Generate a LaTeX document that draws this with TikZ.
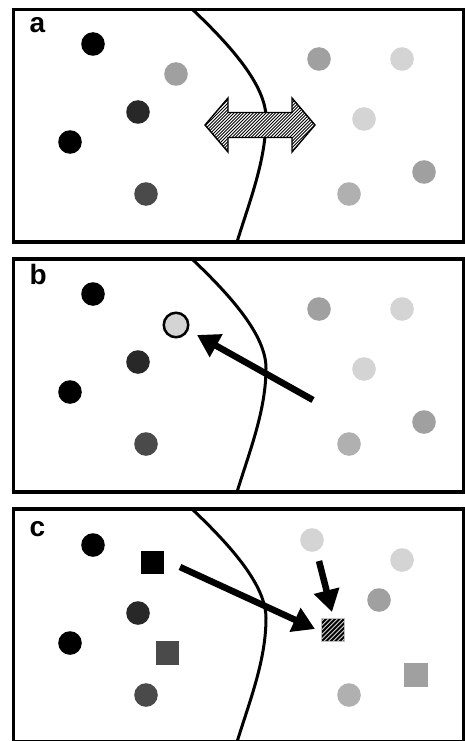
\documentclass[tikz,border=0pt]{standalone}
\usepackage{fontspec}
\setmainfont{Liberation Sans}
\usetikzlibrary{arrows.meta}
\definecolor{cdark}{HTML}{282828}
\definecolor{cmid}{HTML}{4A4A4A}
\definecolor{cgray}{HTML}{A0A0A0}
\definecolor{clight}{HTML}{D4D4D4}
\definecolor{cpale}{HTML}{B0B0B0}
\begin{document}
\begin{tikzpicture}[x=1pt,y=-1pt,
 panel/.style={draw=black, line width=3.2pt},
 boundary/.style={line width=3pt},
 dot/.style={circle, inner sep=0pt, minimum size=23.6pt, draw=none},
 sq/.style={rectangle, inner sep=0pt, minimum size=23.5pt, draw=none},
 lbl/.style={anchor=base west, inner sep=0pt, font=\fontsize{28}{28}\selectfont\bfseries},
 bigarrow/.style={line width=6.5pt, -{Triangle[length=22pt,width=25pt]}},
 hatchsq/.style={rectangle, inner sep=0pt, minimum size=23.5pt, fill=clight, draw=black!25, line width=0.8pt,
   path picture={\foreach \i in {-36,-31.5,...,36}{\draw[draw=black, line width=2pt, shift={(path picture bounding box.center)}] ({\i-30},30) -- ({\i+30},-30);}}},
]
\useasboundingbox (0,0) rectangle (465,741);
\fill[white] (0,0) rectangle (465,741);

% panels
\draw[panel] (13.5,9.5) rectangle (463.5,242);
\draw[panel] (13.5,259) rectangle (463.5,492);
\draw[panel] (13.5,509) rectangle (463.5,741.5);

% boundaries
\foreach \s in {0,250,500}{
  \draw[boundary, shift={(0,\s)}] (192,9) .. controls (230,45) and (266,85) .. (266,118) .. controls (266,160) and (250,200) .. (237,242);
}

% labels
\node[lbl] (la) at (29.5,33) {a};
\node[lbl] (lb) at (29.5,284) {b};
\node[lbl] (lc) at (29.5,536) {c};

% ---- panel a
\node[dot, fill=black] (a1) at (93,44) {};
\node[dot, fill=cgray] (a2) at (176,74) {};
\node[dot, fill=cdark] (a3) at (138,112) {};
\node[dot, fill=black] (a4) at (70,142) {};
\node[dot, fill=cmid] (a5) at (146,194) {};
\node[dot, fill=cgray] (a6) at (319,59) {};
\node[dot, fill=clight] (a7) at (402,59) {};
\node[dot, fill=clight] (a8) at (364,119) {};
\node[dot, fill=cgray] (a9) at (424,172) {};
\node[dot, fill=cpale] (a10) at (349,194) {};

% double arrow
\draw[line width=1.4pt, line join=miter, fill=white,
  path picture={\foreach \i in {-70,-66.8,...,70}{\draw[draw=black, line width=0.9pt, shift={(path picture bounding box.center)}] ({\i-40},40) -- ({\i+40},-40);}}]
  (205,125) -- (228,98) -- (228,112.5) -- (292,112.5) -- (292,98) -- (315,125)
  -- (292,152) -- (292,137.5) -- (228,137.5) -- (228,152) -- cycle;

% ---- panel b
\node[dot, fill=black] (b1) at (93,294) {};
\node[circle, inner sep=0pt, minimum size=24.5pt, fill=clight, draw=black, line width=2.5pt] (b2) at (176,325) {};
\node[dot, fill=cdark] (b3) at (138,362) {};
\node[dot, fill=black] (b4) at (70,392) {};
\node[dot, fill=cmid] (b5) at (146,444) {};
\node[dot, fill=cgray] (b6) at (319,309) {};
\node[dot, fill=clight] (b7) at (402,309) {};
\node[dot, fill=clight] (b8) at (364,369) {};
\node[dot, fill=cgray] (b9) at (424,422) {};
\node[dot, fill=cpale] (b10) at (349,444) {};
\coordinate (bt) at (313,400);
\coordinate (bh) at (197,335);
\draw[bigarrow] (bt) -- (bh);

% ---- panel c
\node[dot, fill=black] (c1) at (93,545) {};
\node[sq, fill=black] (c2) at (152.5,562.5) {};
\node[dot, fill=cdark] (c3) at (138,613) {};
\node[dot, fill=black] (c4) at (70,643) {};
\node[sq, fill=cmid] (c5) at (167.5,653) {};
\node[dot, fill=cmid] (c6) at (146,695) {};
\node[dot, fill=clight] (c7) at (312,540) {};
\node[dot, fill=clight] (c8) at (402,560) {};
\node[dot, fill=cgray] (c9) at (379,600) {};
\node[hatchsq] (c10) at (333,630) {};
\node[sq, fill=cgray] (c11) at (416,675) {};
\node[dot, fill=cpale] (c12) at (349,695) {};
\coordinate (ct1) at (180,567);
\coordinate (ch1) at (315,629);
\coordinate (ct2) at (319,561);
\coordinate (ch2) at (332,612);
\draw[bigarrow] (ct1) -- (ch1);
\draw[bigarrow] (ct2) -- (ch2);
\end{tikzpicture}
\end{document}
